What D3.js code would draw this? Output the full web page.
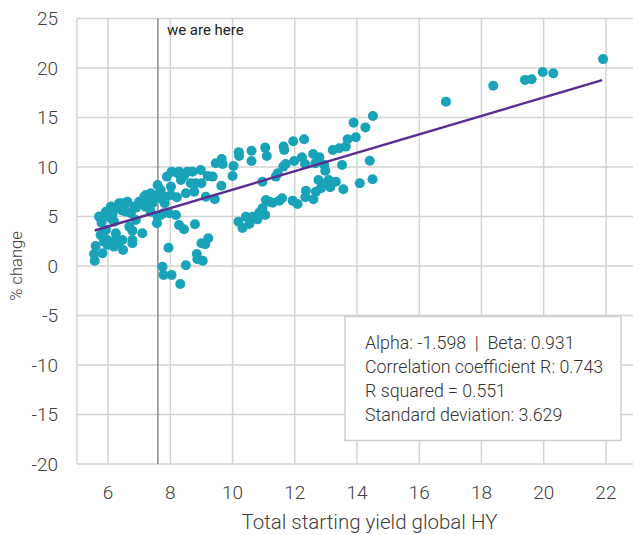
<!DOCTYPE html>
<html>
<head>
<meta charset="utf-8">
<script src="https://cdn.jsdelivr.net/npm/d3@7"></script>
<style>
    body { margin: 0; background: #fff; }
    svg text { font-family: Roboto, "Noto Sans", sans-serif; }
</style>
</head>
<body>
<div id="chart"></div>
<script>
// starting yield (x) and % change (y)
const yieldValues = [
    5.57, 5.55, 5.6, 5.71, 5.79, 5.82, 5.87, 5.98, 5.76, 5.93, 5.93, 6.09, 6.14, 6.19, 6.25, 6.3,
    6.35, 6.46, 6.52, 6.57, 6.62, 6.68, 6.73, 6.78, 6.78, 6.84, 6.89, 7.0, 7.1, 7.16, 7.27, 7.37,
    7.43, 7.48, 7.59, 7.59, 5.82, 6.19, 6.48, 6.78, 6.25, 5.98, 6.3, 6.46, 7.21, 5.93, 6.14, 6.05,
    6.45, 6.9, 7.2, 7.48,
    7.69, 7.82, 7.78, 7.89, 7.86, 7.94, 8.04, 8.28, 8.44, 8.55, 8.71, 8.98, 9.46, 9.65, 9.68, 10.03,
    10.0, 9.36, 9.2, 9.0, 8.66, 8.34, 8.02, 7.69, 8.02, 8.21, 8.5, 8.77, 9.14, 9.43, 9.64, 7.37,
    7.69, 7.96, 8.18, 7.57, 8.28, 8.44, 8.79, 9.0, 9.22, 9.12, 8.85, 8.87, 9.04, 8.5, 7.75, 7.78,
    8.04, 8.32, 8.23, 8.82,
    10.2, 10.21, 10.61, 10.61, 11.05, 11.1, 11.64, 11.66, 11.95, 12.3, 12.59, 12.79, 12.23, 11.98, 11.71, 11.45,
    11.63, 10.96, 12.33, 12.66, 12.95, 12.98, 13.22, 13.43, 13.64, 13.7, 13.96, 13.89, 14.27, 14.51, 13.52, 14.41,
    11.39,
    10.19, 10.32, 10.43, 10.54, 10.64, 10.8, 10.86, 10.96, 11.07, 11.05, 11.18, 11.29, 11.5, 11.59, 11.93, 12.09,
    12.36, 12.34, 12.6, 12.68, 12.76, 12.84, 13.0, 13.09, 13.14, 13.32, 13.56, 14.09, 14.5,
    16.86, 18.38, 19.4, 19.61, 19.97, 20.31, 21.91
];
const changeValues = [
    0.54, 1.21, 2.02, 4.99, 4.38, 1.28, 2.46, 2.12, 3.13, 3.64, 5.49, 6.0, 5.15, 4.48, 3.3, 2.29,
    6.33, 2.63, 6.17, 5.49, 6.5, 3.98, 5.32, 3.57, 2.63, 6.0, 4.65, 6.5, 3.3, 7.0, 6.5, 7.34,
    6.33, 7.0, 8.18, 4.99, 2.96, 1.96, 1.62, 2.29, 2.7, 2.63, 5.83, 6.33, 7.17, 5.26, 5.49, 4.9,
    5.6, 5.9, 6.0, 7.17,
    7.68, 6.33, 5.32, 9.03, 7.0, 1.85, 9.53, 9.53, 9.09, 9.53, 9.53, 9.7, 10.37, 10.81, 10.3, 10.1,
    9.09, 9.03, 9.09, 8.35, 8.35, 8.69, 8.02, 6.84, 7.17, 6.94, 7.34, 7.51, 7.0, 6.74, 8.1, 5.49,
    5.15, 5.32, 5.15, 4.31, 4.14, 3.71, 4.21, 2.29, 2.8, 2.2, 1.22, 0.68, 0.54, 0.07, -0.07, -0.91,
    -0.91, -1.82, 9.36, 8.35,
    11.5, 11.11, 11.65, 10.61, 11.96, 11.11, 12.06, 11.72, 12.6, 12.8, 11.32, 10.98, 10.98, 10.61, 10.3, 9.36,
    10.04, 8.52, 10.3, 10.37, 10.2, 9.63, 11.72, 11.89, 12.06, 12.8, 13.0, 14.48, 14.0, 15.15, 10.2, 10.64,
    9.03,
    4.48, 3.84, 4.98, 4.24, 4.98, 4.71, 5.39, 5.83, 6.67, 5.15, 6.5, 6.4, 6.6, 6.84, 6.6, 6.27,
    7.61, 6.94, 6.74, 7.51, 8.69, 7.85, 8.35, 8.69, 7.95, 8.52, 7.75, 8.35, 8.76,
    16.6, 18.2, 18.8, 18.86, 19.6, 19.46, 20.9
];

const xTicks = [6, 8, 10, 12, 14, 16, 18, 20, 22];
const yTicks = [25, 20, 15, 10, 5, 0, -5, -10, -15, -20];

const ALPHA = -1.598;
const BETA = 0.931;
const fitRange = [5.57, 21.88];
const markerYield = 7.6;
const markerLabel = "we are here";

const statLines = [
    "Alpha: -1.598  |  Beta: 0.931",
    "Correlation coefficient R: 0.743",
    "R squared = 0.551",
    "Standard deviation: 3.629"
];

const width = 633;
const height = 535;
const margin = { top: 18.5, left: 77 };
const plotWidth = 560;
const plotHeight = 445.5;

const svg = d3.select("#chart").append("svg")
    .attr("width", width)
    .attr("height", height);

const nullpoint = svg.append("g")
    .attr("transform", `translate(${margin.left}, ${margin.top})`);

const xScale = d3.scaleLinear()
    .domain([5, 23])
    .range([0, plotWidth]);

const yScale = d3.scaleLinear()
    .domain([-20, 25])
    .range([plotHeight, 0]);

const gridColor = "#d3d3d3";
const labelColor = "#404040";

// grid lines
nullpoint.selectAll(".hgrid")
    .data(yTicks)
    .enter()
    .append("line")
    .attr("class", "hgrid")
    .attr("x1", 0)
    .attr("x2", plotWidth)
    .attr("y1", d => yScale(d))
    .attr("y2", d => yScale(d))
    .attr("stroke", gridColor)
    .attr("stroke-width", 1.5);

nullpoint.selectAll(".vgrid")
    .data([5, ...xTicks])
    .enter()
    .append("line")
    .attr("class", "vgrid")
    .attr("x1", d => xScale(d))
    .attr("x2", d => xScale(d))
    .attr("y1", 0)
    .attr("y2", plotHeight)
    .attr("stroke", gridColor)
    .attr("stroke-width", 1.5);

// tick labels
nullpoint.selectAll(".ylabel")
    .data(yTicks)
    .enter()
    .append("text")
    .attr("class", "ylabel")
    .attr("x", -19)
    .attr("y", d => yScale(d))
    .attr("dy", "0.35em")
    .attr("text-anchor", "end")
    .style("font-size", "19px")
    .style("font-weight", 300)
    .style("fill", labelColor)
    .text(d => d);

nullpoint.selectAll(".xlabel")
    .data(xTicks)
    .enter()
    .append("text")
    .attr("class", "xlabel")
    .attr("x", d => xScale(d))
    .attr("y", plotHeight + 35)
    .attr("text-anchor", "middle")
    .style("font-size", "19px")
    .style("font-weight", 300)
    .style("fill", labelColor)
    .text(d => d);

// axis titles
svg.append("text")
    .attr("x", margin.left + xScale(14.4))
    .attr("y", 529)
    .attr("text-anchor", "middle")
    .style("font-size", "20.5px")
    .style("font-weight", 300)
    .style("fill", labelColor)
    .text("Total starting yield global HY");

svg.append("text")
    .attr("transform", `translate(22, ${margin.top + yScale(0)}) rotate(-90)`)
    .attr("text-anchor", "middle")
    .style("font-size", "16.5px")
    .style("font-weight", 300)
    .style("fill", labelColor)
    .text("% change");

// "we are here" marker
nullpoint.append("line")
    .attr("x1", xScale(markerYield))
    .attr("x2", xScale(markerYield))
    .attr("y1", 0)
    .attr("y2", plotHeight)
    .attr("stroke", "#8c8c8c")
    .attr("stroke-width", 1.5);

nullpoint.append("text")
    .attr("x", xScale(markerYield) + 9)
    .attr("y", 16.5)
    .style("font-size", "15px")
    .style("fill", "#222")
    .text(markerLabel);

// points
const points = yieldValues.map((x, i) => ({ x: x, y: changeValues[i] }));

nullpoint.selectAll(".dot")
    .data(points)
    .enter()
    .append("circle")
    .attr("class", "dot")
    .attr("cx", d => xScale(d.x))
    .attr("cy", d => yScale(d.y))
    .attr("r", 5)
    .attr("fill", "#19a3b9");

// regression line
const fitLine = d3.line()
    .x(d => xScale(d))
    .y(d => yScale(ALPHA + BETA * d));

nullpoint.append("path")
    .datum(fitRange)
    .attr("fill", "none")
    .attr("stroke", "#5a2d91")
    .attr("stroke-width", 2.5)
    .attr("d", fitLine);

// stats box
const box = svg.append("g")
    .attr("transform", "translate(345, 316.5)");

box.append("rect")
    .attr("width", 276)
    .attr("height", 124)
    .attr("fill", "#fff")
    .attr("stroke", "#cfcfcf")
    .attr("stroke-width", 1.5);

box.selectAll(".stat")
    .data(statLines)
    .enter()
    .append("text")
    .attr("class", "stat")
    .attr("x", 20)
    .attr("y", (d, i) => 32 + i * 24)
    .style("font-size", "17.8px")
    .style("font-weight", 300)
    .style("fill", "#333")
    .style("white-space", "pre")
    .text(d => d);
</script>
</body>
</html>
